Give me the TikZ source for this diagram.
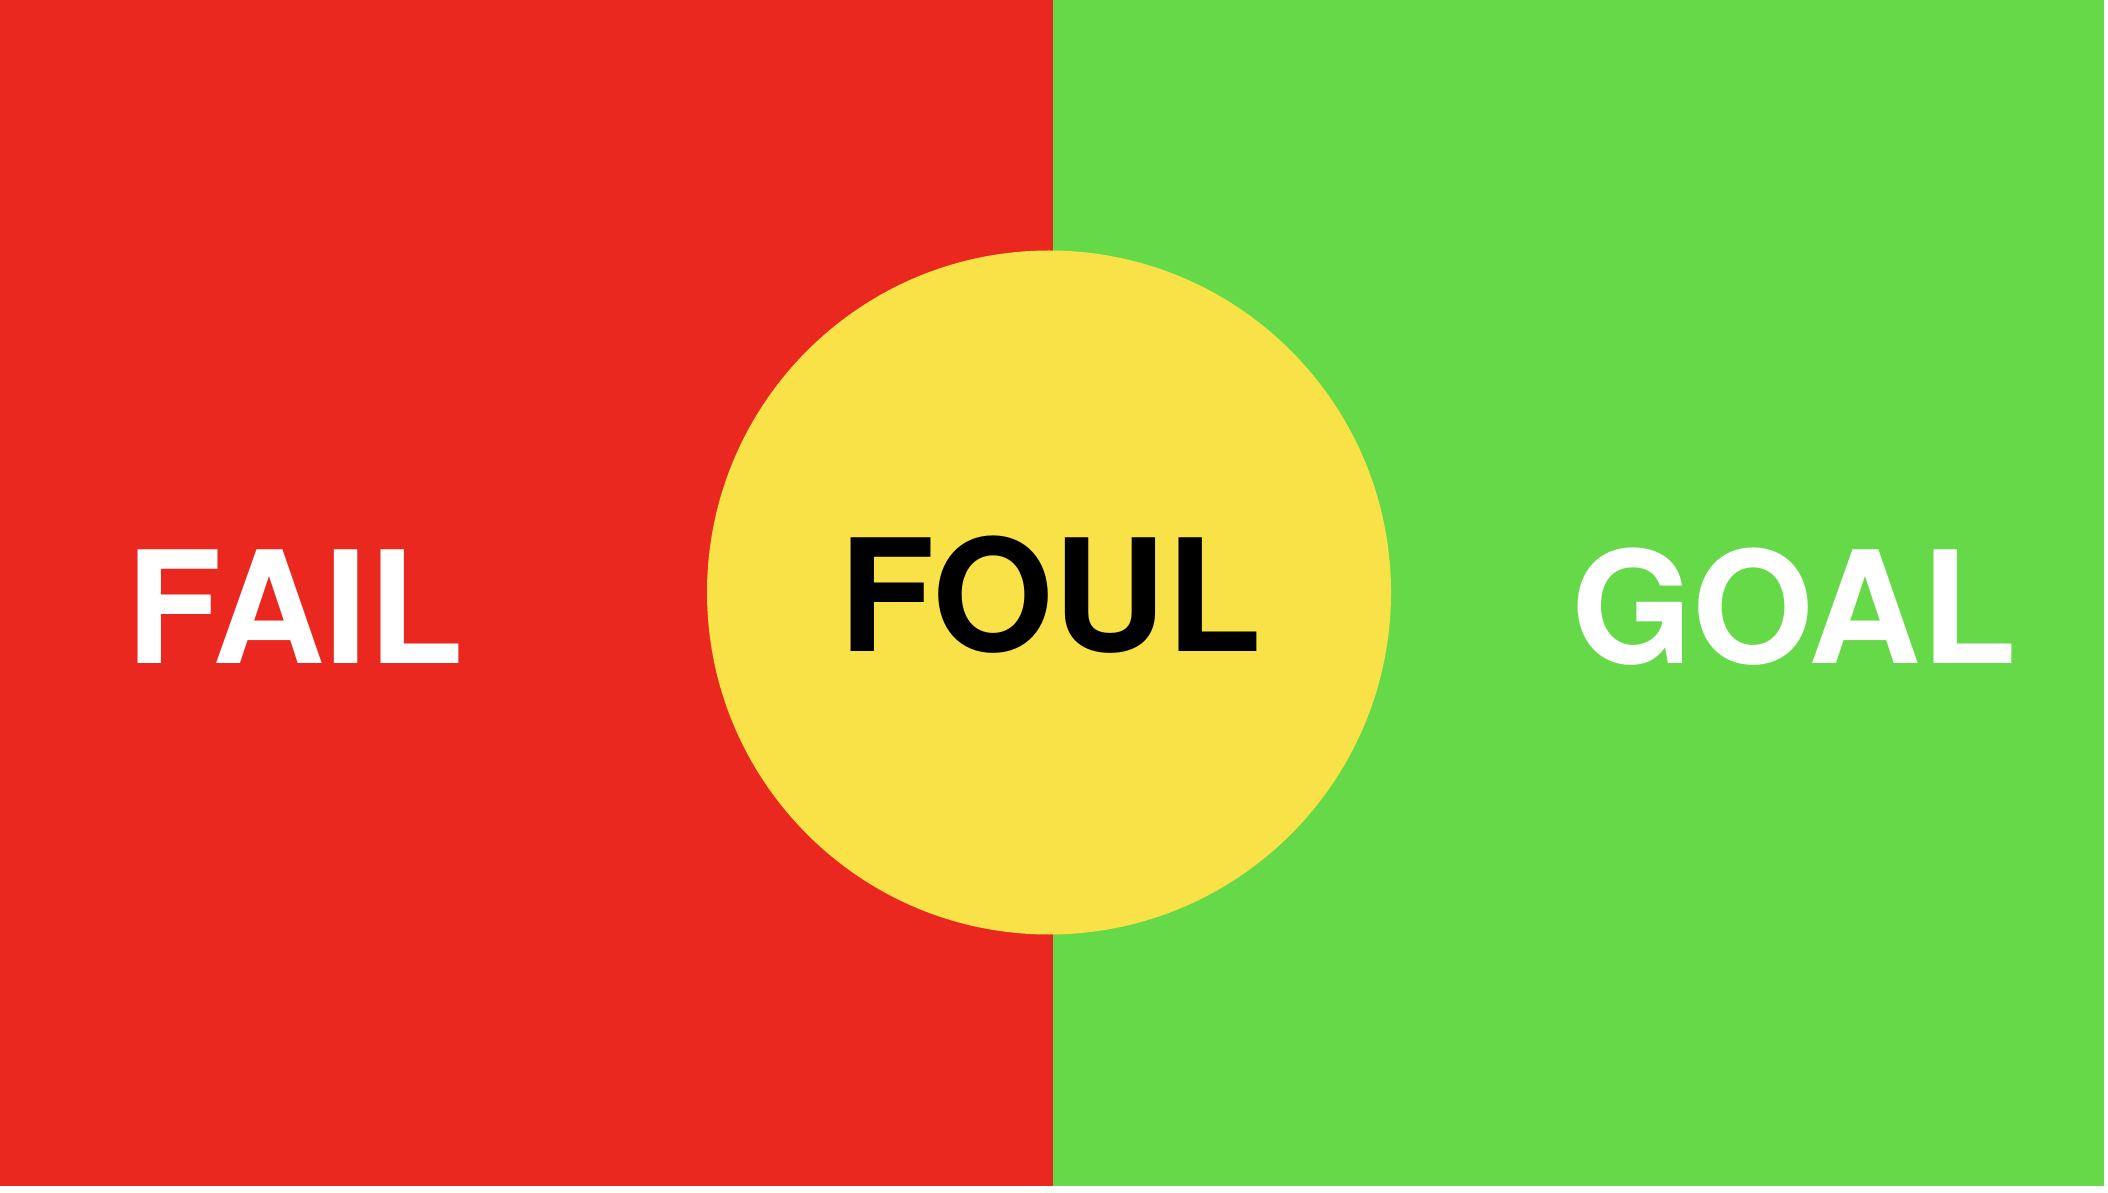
\documentclass[tikz,border=0pt]{standalone}
\usepackage{fontspec}
\setmainfont{TeX Gyre Heros}
\usepackage{tikz}

\definecolor{failred}{RGB}{234,40,32}
\definecolor{goalgreen}{RGB}{102,217,72}
\definecolor{foulyellow}{RGB}{249,225,72}

\begin{document}
\begin{tikzpicture}[
        word/.style={inner sep=0pt, anchor=base, font=\fontsize{44.4pt}{50pt}\selectfont\bfseries}
    ]
        \useasboundingbox[fill=white] (0,0) rectangle (21.08,11.92);
        \fill[failred] (0,0.06) rectangle (10.53,11.92);
        \fill[goalgreen] (10.53,0.06) rectangle (21.04,11.92);
        \node[circle, fill=foulyellow, minimum size=6.84cm, inner sep=0pt] (ball) at (10.49,5.995) {};

        \node[word, text=white] (fail) at (2.95,5.28) {FAIL};
        \node[word, text=black] (foul) at (10.505,5.40) {FOUL};
        \node[word, text=white] (goal) at (17.94,5.28) {GOAL};
    \end{tikzpicture}
\end{document}
